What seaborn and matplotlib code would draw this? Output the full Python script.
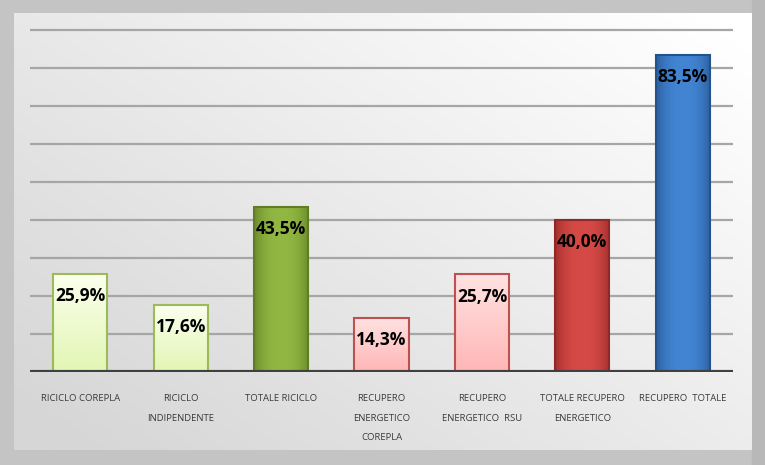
import numpy as np
import pandas as pd
import matplotlib
matplotlib.use("Agg")
import matplotlib.pyplot as plt
import seaborn as sns
from matplotlib.colors import to_rgb

categories = ["RICICLO COREPLA", "RICICLO\nINDIPENDENTE", "TOTALE RICICLO",
              "RECUPERO\nENERGETICO\nCOREPLA", "RECUPERO\nENERGETICO  RSU",
              "TOTALE RECUPERO\nENERGETICO", "RECUPERO  TOTALE"]
values = [25.9, 17.6, 43.5, 14.3, 25.7, 40.0, 83.5]
labels = ["25,9%", "17,6%", "43,5%", "14,3%", "25,7%", "40,0%", "83,5%"]
# (top color, bottom color, edge color, gradient direction)
styles = [
    ("#fbffee", "#e2f6b4", "#9bbb59", "v"),
    ("#fbffee", "#e2f6b4", "#9bbb59", "v"),
    ("#92b743", "#6b8b2a", "#5f7d24", "h"),
    ("#ffe2e2", "#ffb6b6", "#c0504d", "v"),
    ("#ffe2e2", "#ffb6b6", "#c0504d", "v"),
    ("#d64a46", "#a32f2d", "#8f2826", "h"),
    ("#4285d3", "#2b5e9e", "#24528a", "h"),
]

sns.set_theme(style="white")
plt.rcParams['font.family'] = ['Open Sans', 'DejaVu Sans']

W, H = 765, 465
fig = plt.figure(figsize=(W / 100, H / 100), dpi=100)
fig.patch.set_facecolor("#c4c4c4")

# inner panel with gradient
bg = fig.add_axes([0, 0, 1, 1], zorder=0)
bg.set_xlim(0, W); bg.set_ylim(H, 0); bg.axis("off")
xx, yy = np.meshgrid(np.linspace(0, 1, 200), np.linspace(0, 1, 200))
t = np.clip(0.6 * xx + 0.5 * (1 - yy) - 0.05, 0, 1)
c0 = np.array(to_rgb("#d6d6d6")); c1 = np.array(to_rgb("#ffffff"))
img = c0[None, None, :] * (1 - t[..., None]) + c1[None, None, :] * t[..., None]
bg.imshow(img, extent=[14, 752, 450, 14], aspect="auto", zorder=1)
bg.add_patch(plt.Rectangle((752, 0), 13, H, color="#b8b8b8", zorder=0))

df = pd.DataFrame({"cat": categories, "val": values})
ax = fig.add_axes([30 / W, (H - 372) / H, (733 - 30) / W, (372 - 28) / H], zorder=2)
ax.patch.set_alpha(0)
sns.barplot(data=df, x="cat", y="val", ax=ax, width=0.54, color="#ffffff",
            saturation=1, zorder=3)
ax.set_ylim(0, 90 * 344 / 342)
ax.set_xlim(-0.5, len(categories) - 0.5)
for y in range(10, 91, 10):
    ax.axhline(y, color="#a6a6a6", lw=1.6, zorder=1)
ax.axhline(0, color="#404040", lw=3, zorder=5)
for s in ax.spines.values():
    s.set_visible(False)
ax.set_yticks([])
ax.set_xlabel(""); ax.set_ylabel("")
ax.tick_params(axis="x", length=0, pad=16)
ax.set_xticks(range(len(categories)))
ax.set_xticklabels(categories, fontsize=6.8, color="#3a3a3a", linespacing=2.5, va="top")

for bar, (ctop, cbot, cedge, d), lab in zip(ax.patches, styles, labels):
    x0, y0 = bar.get_x(), bar.get_y()
    w, h = bar.get_width(), bar.get_height()
    a = np.array(to_rgb(ctop)); b = np.array(to_rgb(cbot))
    if d == "v":
        s = np.linspace(0, 1, 100)[:, None, None]
        grad = a * (1 - s) + b * s
        grad = np.repeat(grad, 2, axis=1)
    else:
        s = np.abs(np.linspace(-1, 1, 100)) ** 2.5
        s = s[None, :, None]
        grad = a * (1 - s) + b * s
        grad = np.repeat(grad, 2, axis=0)
    im = ax.imshow(grad, extent=[x0, x0 + w, y0, y0 + h], aspect="auto",
                   zorder=3.5, origin="upper")
    im.set_clip_path(bar)
    bar.set_facecolor("none")
    bar.set_edgecolor(cedge)
    bar.set_linewidth(1.5)
    bar.set_zorder(4)
    ax.annotate(lab, (x0 + w / 2, h), xytext=(0, -16), textcoords="offset points",
                ha="center", va="center", fontsize=12.5, fontweight="bold",
                color="#000000", zorder=6)

fig.savefig("out.png", dpi=100, facecolor=fig.get_facecolor())
